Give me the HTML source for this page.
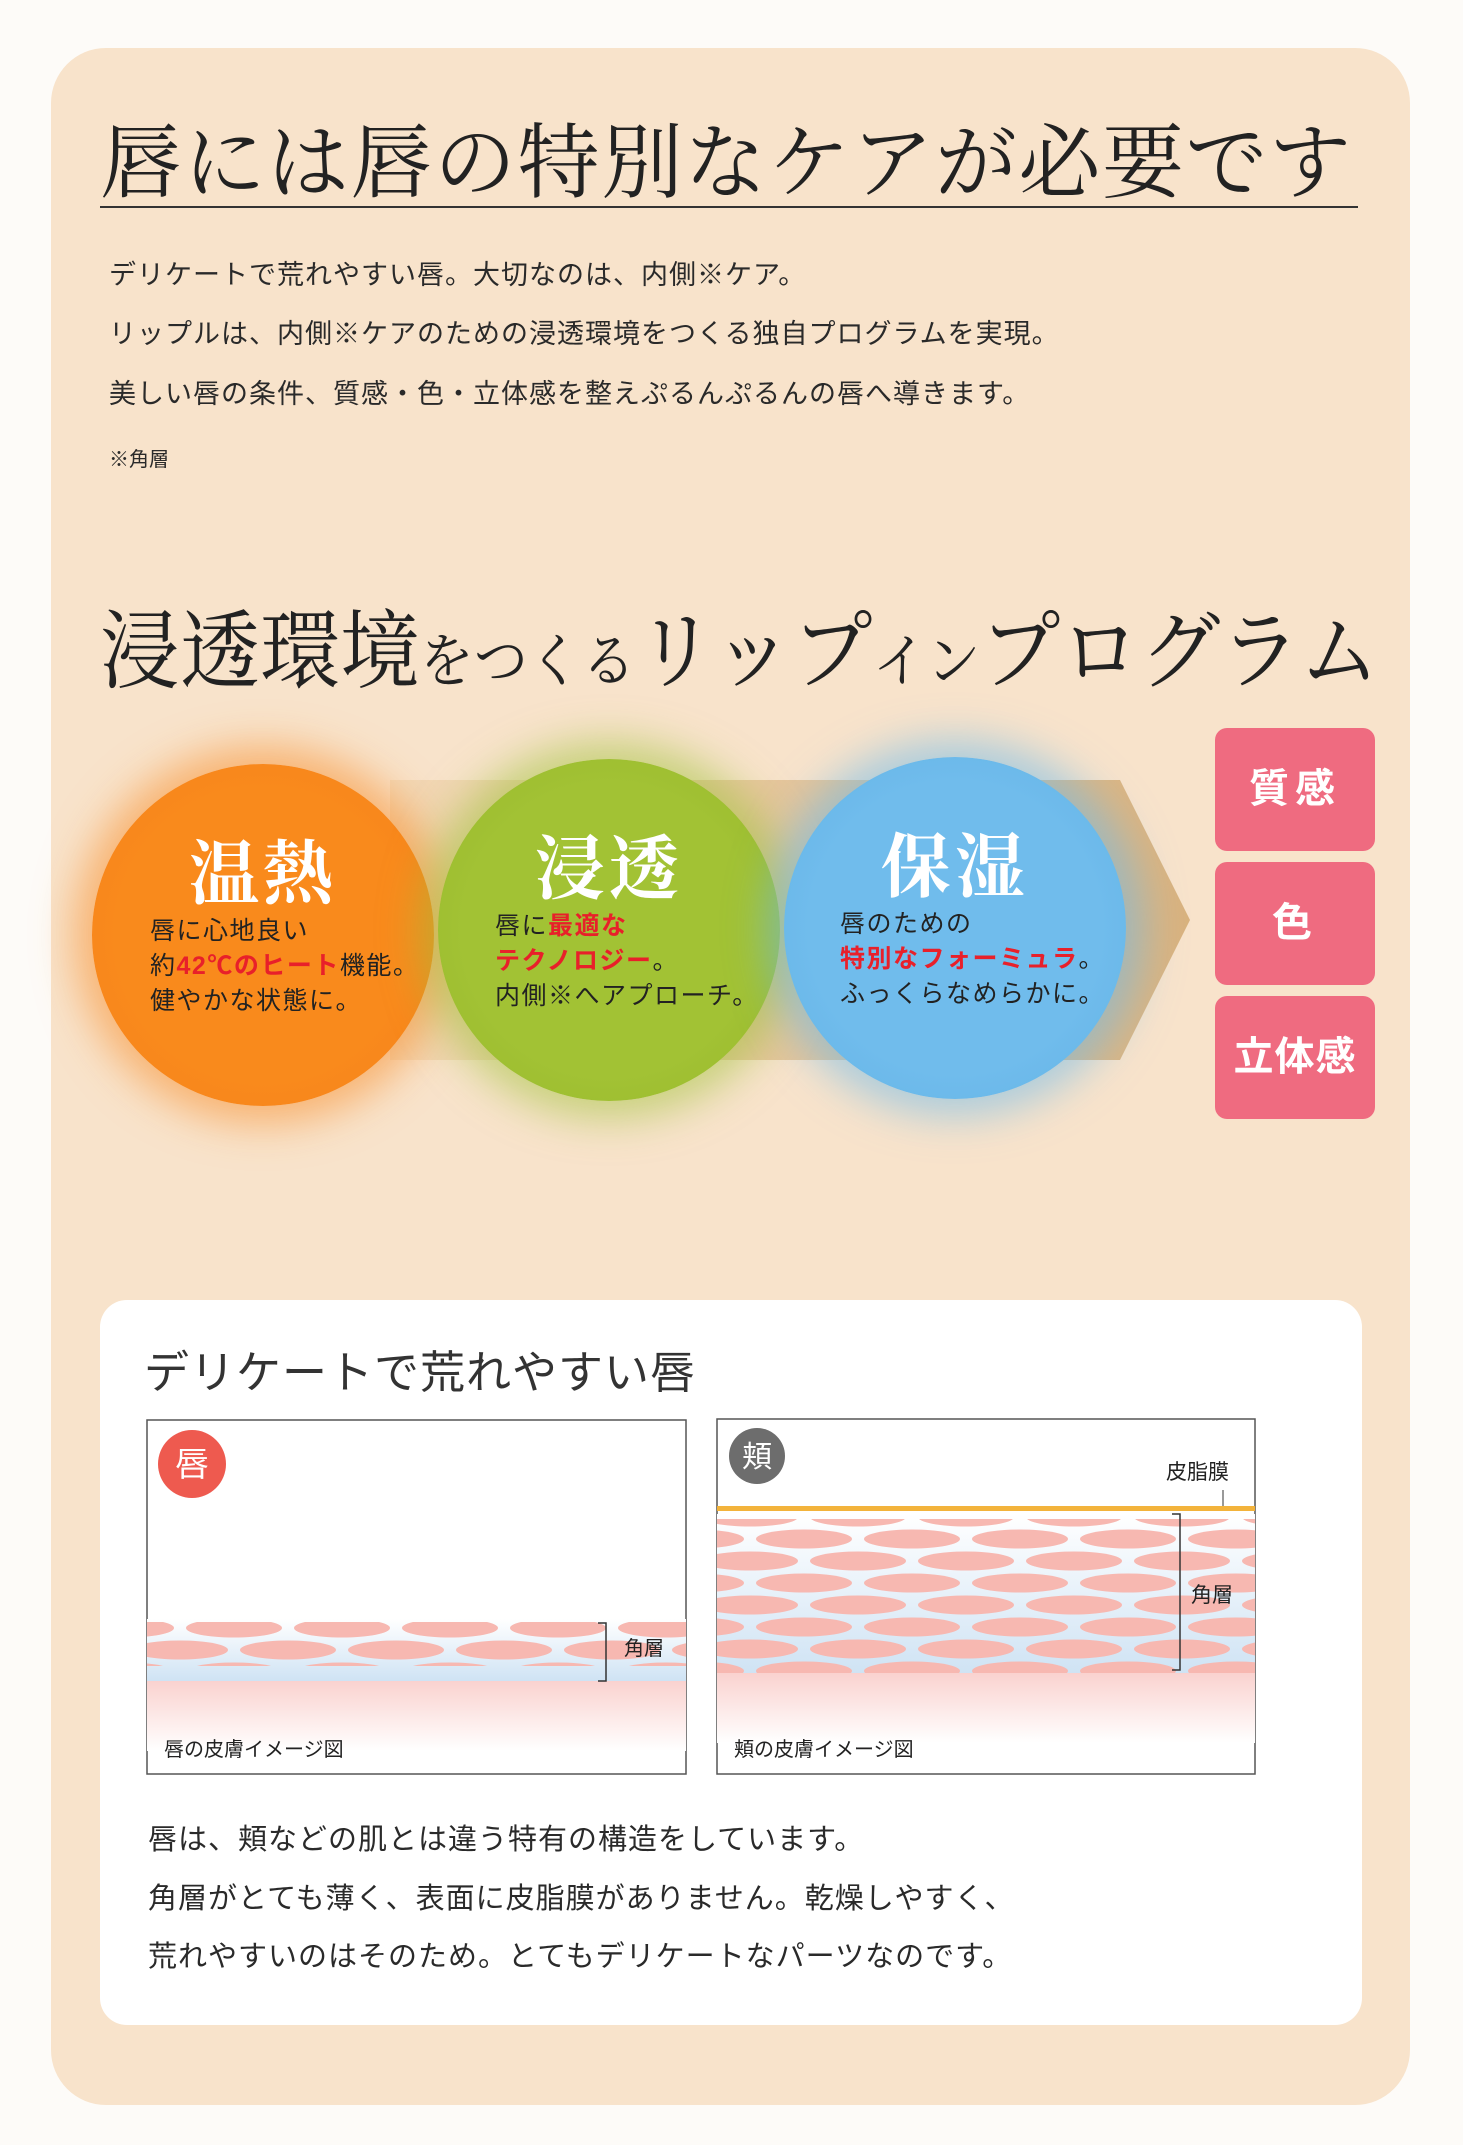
<!DOCTYPE html>
<html><head><meta charset="utf-8"><style>
body{margin:0;width:1463px;height:2145px;background:#fdfbf8;position:relative;overflow:hidden;font-family:"Liberation Sans","Noto Sans CJK JP",sans-serif;color:#2a2a2a}
.a{position:absolute;white-space:nowrap}
.panel{position:absolute;left:51px;top:48px;width:1359px;height:2057px;background:#f8e3cb;border-radius:55px}
.serif{font-family:"Liberation Serif","Noto Serif CJK SC",serif}
.body{font-size:27px;left:109px;letter-spacing:1px}
.circ{position:absolute;width:342px;height:342px;border-radius:50%}
.ct{position:absolute;left:0;width:100%;text-align:center;color:#fff;font-size:70px;top:54px;font-family:"Liberation Serif","Noto Serif CJK SC",serif;font-weight:bold;letter-spacing:4px}
.cx{position:absolute;top:150px;font-size:25px;line-height:35px;color:#222;white-space:nowrap;letter-spacing:1.5px}
.r{color:#e8202a;font-weight:bold}
.pk{position:absolute;left:1215px;width:160px;height:123px;background:#ef6b80;border-radius:12px;color:#fff;font-weight:bold;font-size:40px;text-align:center;line-height:123px;letter-spacing:6px}
.wb{position:absolute;left:100px;top:1300px;width:1262px;height:725px;background:#fff;border-radius:27px}
</style></head><body>
<div class="panel"></div>
<div class="a serif" style="left:100px;top:98px;font-size:82px;letter-spacing:1.5px;color:#222">唇には唇の特別なケアが必要です</div>
<div class="a" style="left:100px;top:206px;width:1258px;height:2px;background:#333"></div>
<div class="a body" style="top:253px">デリケートで荒れやすい唇。大切なのは、内側※ケア。</div>
<div class="a body" style="top:312px">リップルは、内側※ケアのための浸透環境をつくる独自プログラムを実現。</div>
<div class="a body" style="top:372px">美しい唇の条件、質感・色・立体感を整えぷるんぷるんの唇へ導きます。</div>
<div class="a" style="left:109px;top:443px;font-size:20px">※角層</div>
<div class="a serif" style="left:100px;top:582px;color:#222;transform:scaleX(0.93);transform-origin:0 0"><span style="font-size:86px">浸透環境</span><span style="font-size:58px">をつくる</span><span style="font-size:86px">リップ</span><span style="font-size:58px">イン</span><span style="font-size:86px">プログラム</span></div>

<svg class="a" style="left:390px;top:775px" width="810" height="290"><defs><linearGradient id="g" x1="0" x2="1"><stop offset="0" stop-color="#f3d9b8"/><stop offset="1" stop-color="#d9b27e"/></linearGradient></defs><polygon points="0,5 730,5 800,145 730,285 0,285" fill="url(#g)"/></svg>

<div class="circ" style="left:92px;top:764px;background:radial-gradient(circle,#f98a1c 60%,#f6801a);box-shadow:0 0 40px 18px rgba(248,140,40,.55)">
<div class="ct">温熱</div>
<div class="cx" style="left:58px">唇に心地良い<br>約<span class="r">42℃のヒート</span>機能。<br>健やかな状態に。</div></div>
<div class="circ" style="left:438px;top:759px;background:radial-gradient(circle,#a2c234 60%,#97b82c);box-shadow:0 0 40px 18px rgba(160,195,60,.55)">
<div class="ct">浸透</div>
<div class="cx" style="left:57px">唇に<span class="r">最適な</span><br><span class="r">テクノロジー</span>。<br>内側※へアプローチ。</div></div>
<div class="circ" style="left:784px;top:757px;background:radial-gradient(circle,#70bcec 60%,#62b2e6);box-shadow:0 0 40px 18px rgba(110,185,235,.55)">
<div class="ct">保湿</div>
<div class="cx" style="left:56px">唇のための<br><span class="r">特別なフォーミュラ</span>。<br>ふっくらなめらかに。</div></div>

<div class="pk" style="top:728px">質感</div>
<div class="pk" style="top:862px">色</div>
<div class="pk" style="top:996px;letter-spacing:1px">立体感</div>

<div class="wb"></div>
<div class="a" style="left:144px;top:1336px;font-size:45px;color:#333;letter-spacing:1px">デリケートで荒れやすい唇</div>

<svg class="a" style="left:146px;top:1419px" width="541" height="356">
<defs>
<pattern id="cells" width="108" height="44" patternUnits="userSpaceOnUse" x="-20">
<ellipse cx="54" cy="11" rx="48" ry="9.5" fill="#f7b8b1"/>
<ellipse cx="0" cy="33" rx="48" ry="9.5" fill="#f7b8b1"/>
<ellipse cx="108" cy="33" rx="48" ry="9.5" fill="#f7b8b1"/>
</pattern>
<linearGradient id="pk" x1="0" y1="0" x2="0" y2="1"><stop offset="0" stop-color="#fad2cf"/><stop offset="1" stop-color="#fff"/></linearGradient>
<linearGradient id="bl" x1="0" y1="0" x2="0" y2="1"><stop offset="0" stop-color="#fff"/><stop offset="1" stop-color="#cfe3f4"/></linearGradient>
</defs>
<rect x="1" y="1" width="539" height="354" fill="#fff" stroke="#555" stroke-width="1.5"/>
<rect x="1" y="200" width="539" height="62" fill="url(#bl)"/>
<rect x="1" y="203" width="539" height="44" fill="url(#cells)"/>
<rect x="1" y="262" width="539" height="70" fill="url(#pk)"/>
<circle cx="46" cy="45" r="34" fill="#ee5a4f"/>
<text x="46" y="57" font-size="34" fill="#fff" text-anchor="middle" font-family="Noto Sans CJK JP">唇</text>
<path d="M452 204h8v58h-8" fill="none" stroke="#333" stroke-width="1.5"/>
<text x="478" y="236" font-size="20" fill="#222" font-family="Noto Sans CJK JP">角層</text>
<text x="18" y="337" font-size="20" fill="#222" font-family="Noto Sans CJK JP">唇の皮膚イメージ図</text>
</svg>

<svg class="a" style="left:716px;top:1418px" width="540" height="357">
<defs>
<linearGradient id="bl2" x1="0" y1="0" x2="0" y2="1"><stop offset="0" stop-color="#fff"/><stop offset="1" stop-color="#cfe3f4"/></linearGradient>
</defs>
<rect x="1" y="1" width="538" height="355" fill="#fff" stroke="#555" stroke-width="1.5"/>
<rect x="1" y="96" width="538" height="160" fill="url(#bl2)"/>
<rect x="1" y="101" width="538" height="154" fill="url(#cells)"/>
<rect x="1" y="255" width="538" height="70" fill="url(#pk)"/>
<rect x="1" y="88" width="538" height="5" fill="#f3b33b"/>
<line x1="507" y1="72" x2="507" y2="88" stroke="#333"/>
<circle cx="41" cy="38" r="28" fill="#6d6d6d"/>
<text x="41" y="49" font-size="30" fill="#fff" text-anchor="middle" font-family="Noto Sans CJK JP">頬</text>
<text x="450" y="61" font-size="21" fill="#222" font-family="Noto Sans CJK JP">皮脂膜</text>
<path d="M456 96h8v156h-8" fill="none" stroke="#333" stroke-width="1.5"/>
<text x="475" y="184" font-size="21" fill="#222" font-family="Noto Sans CJK JP">角層</text>
<text x="18" y="338" font-size="20" fill="#222" font-family="Noto Sans CJK JP">頬の皮膚イメージ図</text>
</svg>

<div class="a" style="left:148px;top:1816px;font-size:29px;letter-spacing:1px">唇は、頬などの肌とは違う特有の構造をしています。</div>
<div class="a" style="left:148px;top:1875px;font-size:29px;letter-spacing:1px">角層がとても薄く、表面に皮脂膜がありません。乾燥しやすく、</div>
<div class="a" style="left:148px;top:1933px;font-size:29px;letter-spacing:1px">荒れやすいのはそのため。とてもデリケートなパーツなのです。</div>
</body></html>
